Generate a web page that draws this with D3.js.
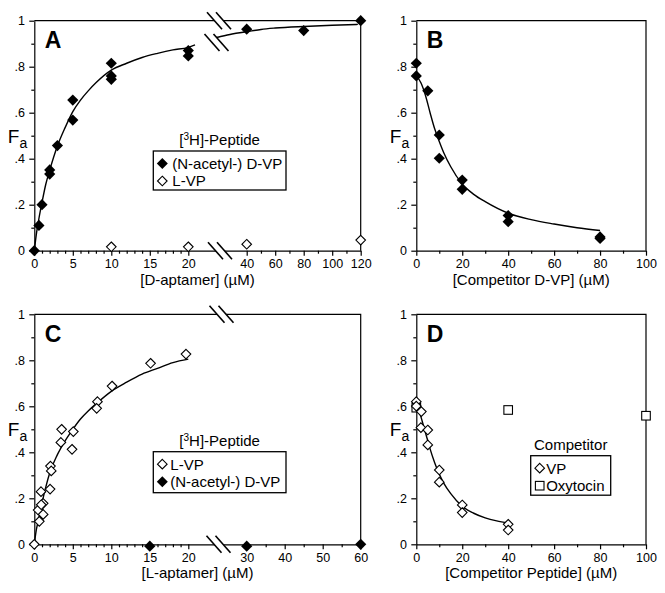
<!DOCTYPE html>
<html><head><meta charset="utf-8">
<script src="https://cdn.jsdelivr.net/npm/d3@7"></script>
<style>body{margin:0;background:#fff}svg{display:block}</style>
</head><body>
<svg id="c" width="665" height="593"></svg>
<script>
// ---------- data ----------
const yMajor = [0, 0.2, 0.4, 0.6, 0.8, 1];
const yMajorLabels = ["0", ".2", ".4", ".6", ".8", "1"];
const yMinor = [0.1, 0.3, 0.5, 0.7, 0.9];

// Panel A
const aBreaks = [0, 20, 40, 120];
const aXMajor = [0, 5, 10, 15, 20, 40, 60, 80, 100, 120];
const aXMinor = [1,2,3,4,6,7,8,9,11,12,13,14,16,17,18,19,50,70,90,110];
const aDvpX = [0, 0.6, 1, 2, 2, 3, 5, 5, 10, 10, 10, 20, 20, 40, 80, 120];
const aDvpY = [0, 0.11, 0.2, 0.351, 0.333, 0.457, 0.655, 0.568, 0.815, 0.76, 0.745, 0.87, 0.847, 0.963, 0.957, 1.0];
const aLvpX = [10, 20, 40, 120];
const aLvpY = [0.017, 0.017, 0.028, 0.046];
const aFitLX = [0, 0.3, 0.6, 1, 1.5, 2, 3, 4, 5, 6, 7, 8, 10, 12, 14, 16, 18, 20, 22.3];
const aFitLY = [0, 0.08, 0.14, 0.21, 0.29, 0.35, 0.455, 0.535, 0.605, 0.655, 0.695, 0.73, 0.785, 0.815, 0.84, 0.858, 0.873, 0.884, 0.895];
const aFitRX = [28.3, 30, 35, 40, 50, 60, 80, 100, 118];
const aFitRY = [0.923, 0.928, 0.942, 0.952, 0.962, 0.968, 0.975, 0.98, 0.984];

// Panel B
const bXMajor = [0, 20, 40, 60, 80, 100];
const bXMinor = [10, 30, 50, 70, 90];
const bDvpX = [0, 0, 5, 10, 10, 20, 20, 40, 40, 80, 80];
const bDvpY = [0.815, 0.76, 0.695, 0.503, 0.402, 0.307, 0.267, 0.153, 0.126, 0.06, 0.053];
const bFitX = [0, 2, 4, 6, 8, 10, 12, 15, 20, 25, 30, 40, 50, 60, 70, 80];
const bFitY = [0.76, 0.73, 0.675, 0.6, 0.53, 0.475, 0.425, 0.365, 0.29, 0.245, 0.213, 0.163, 0.135, 0.116, 0.1, 0.088];

// Panel C
const cBreaks = [0, 20, 30, 60];
const cXMajor = [0, 5, 10, 15, 20, 30, 40, 50, 60];
const cXMinor = [1,2,3,4,6,7,8,9,11,12,13,14,16,17,18,19,35,45,55];
const cLvpX = [0, 0.65, 0.5, 0.87, 1.15, 1.15, 0.9, 2.1, 2.2, 2.05, 3.55, 3.45, 5.07, 4.9, 8.2, 8.1, 10.1, 15.1, 19.7];
const cLvpY = [0, 0.1, 0.149, 0.229, 0.178, 0.13, 0.172, 0.34, 0.319, 0.24, 0.5, 0.443, 0.49, 0.413, 0.62, 0.591, 0.688, 0.787, 0.827];
const cDvpX = [15, 30, 60];
const cDvpY = [-0.008, -0.008, 0];
const cFitX = [0, 0.25, 0.5, 1, 1.5, 2, 3, 4, 5, 6, 7, 8, 10, 12, 14, 16, 18, 20];
const cFitY = [0, 0.06, 0.1, 0.18, 0.25, 0.31, 0.39, 0.45, 0.5, 0.545, 0.58, 0.61, 0.665, 0.705, 0.74, 0.765, 0.79, 0.805];

// Panel D
const dXMajor = [0, 20, 40, 60, 80, 100];
const dXMinor = [10, 30, 50, 70, 90];
const dVpX = [0, 0, 2.2, 2, 5, 5, 10, 10, 20, 20, 40, 40];
const dVpY = [0.62, 0.601, 0.577, 0.507, 0.497, 0.432, 0.323, 0.27, 0.171, 0.138, 0.087, 0.062];
const dOxyX = [0, 40, 100];
const dOxyY = [0.594, 0.584, 0.559];
const dFitX = [0, 1, 2, 3, 4, 5, 6, 8, 10, 12, 15, 20, 25, 30, 35, 40];
const dFitY = [0.6, 0.585, 0.555, 0.52, 0.485, 0.45, 0.415, 0.355, 0.305, 0.265, 0.22, 0.165, 0.135, 0.115, 0.102, 0.093];

// ---------- drawing ----------
const svg = d3.select("#c");
svg.append("rect").attr("width", 665).attr("height", 593).attr("fill", "#fff");
const FONT = "'Liberation Sans', Arial, Helvetica, sans-serif";
svg.attr("font-family", FONT);

const zip = (xs, ys) => xs.map((x, i) => [x, ys[i]]);

function diamondPath(r) { return `M0,${-r}L${r},0L0,${r}L${-r},0Z`; }

function axes(g, x, y, xMaj, xMin) {
  g.append("g").attr("transform", `translate(0,${y(0)})`)
    .call(d3.axisBottom(x).tickValues(xMaj).tickSize(5).tickSizeOuter(0).tickPadding(3.6).tickFormat(d => String(d)));
  g.append("g").attr("transform", `translate(0,${y(0)})`)
    .call(d3.axisBottom(x).tickValues(xMin).tickSize(3).tickSizeOuter(0).tickFormat(""))
    .select(".domain").remove();
  g.append("g").attr("transform", `translate(${x.range()[0]},0)`)
    .call(d3.axisLeft(y).tickValues(yMajor).tickSize(5).tickSizeOuter(0).tickPadding(4.3).tickFormat((d, i) => yMajorLabels[i]));
  g.append("g").attr("transform", `translate(${x.range()[0]},0)`)
    .call(d3.axisLeft(y).tickValues(yMinor).tickSize(3).tickSizeOuter(0).tickFormat(""))
    .select(".domain").remove();
  g.selectAll(".domain, .tick line").attr("stroke", "#000").attr("stroke-width", 1.2);
  g.selectAll(".tick text").attr("font-size", 12.5).attr("font-family", FONT).attr("fill", "#000");
  const xr = x.range();
  g.append("path").attr("d", `M${xr[0]},${y(1)}H${xr[xr.length - 1]}V${y(0)}`)
    .attr("fill", "none").attr("stroke", "#000").attr("stroke-width", 1.2);
}

function brk(g, cx, cy) {
  const dx = 7.5, dy = 8.5, sep = 4.5;
  g.append("path").attr("d", `M${cx - sep - dx},${cy - dy}L${cx + sep - dx},${cy - dy}L${cx + sep + dx},${cy + dy}L${cx - sep + dx},${cy + dy}Z`)
    .attr("fill", "#fff");
  [-sep, sep].forEach(s => {
    g.append("line").attr("x1", cx + s - dx).attr("y1", cy - dy).attr("x2", cx + s + dx).attr("y2", cy + dy)
      .attr("stroke", "#000").attr("stroke-width", 1.6);
  });
}

function fit(g, x, y, xs, ys) {
  g.append("path").datum(zip(xs, ys))
    .attr("d", d3.line().x(d => x(d[0])).y(d => y(d[1])).curve(d3.curveMonotoneX))
    .attr("fill", "none").attr("stroke", "#000").attr("stroke-width", 1.4);
}

function points(g, x, y, xs, ys, kind) {
  zip(xs, ys).forEach(d => {
    const t = `translate(${x(d[0])},${y(d[1])})`;
    if (kind === "filled") g.append("path").attr("d", diamondPath(5.6)).attr("transform", t).attr("fill", "#000");
    else if (kind === "open") g.append("path").attr("d", diamondPath(4.8)).attr("transform", t).attr("fill", "#fff").attr("stroke", "#000").attr("stroke-width", 1.1);
    else g.append("rect").attr("x", -4.3).attr("y", -4.3).attr("width", 8.6).attr("height", 8.6).attr("transform", t).attr("fill", "#fff").attr("stroke", "#000").attr("stroke-width", 1.1);
  });
}

function labels(g, x, y, letter, xTitle) {
  const xr = x.range();
  g.append("text").attr("x", xr[0] + 10.5).attr("y", y(1) + 27.5).attr("font-size", 23).attr("font-weight", "bold").text(letter);
  const fa = g.append("text").attr("x", xr[0] - 26.5).attr("y", y(0.47)).attr("font-size", 19);
  fa.append("tspan").text("F");
  fa.append("tspan").attr("font-size", 14).attr("dy", 5).text("a");
  g.append("text").attr("x", (xr[0] + xr[xr.length - 1]) / 2).attr("y", y(0) + 34)
    .attr("text-anchor", "middle").attr("font-size", 15).text(xTitle);
}

function legend(g, title, sup, items, bx, by, bw, bh, tx) {
  const t = g.append("text").attr("x", bx + bw / 2).attr("y", by - 6).attr("text-anchor", "middle").attr("font-size", 15);
  if (sup) {
    t.append("tspan").text("[");
    t.append("tspan").attr("font-size", 10).attr("dy", -5).text("3");
    t.append("tspan").attr("dy", 5).text("H]-Peptide");
  } else t.text(title);
  g.append("rect").attr("x", bx).attr("y", by).attr("width", bw).attr("height", bh)
    .attr("fill", "#fff").attr("stroke", "#000").attr("stroke-width", 1.3);
  items.forEach((it, i) => {
    const cy = by + 12.5 + i * 17.5;
    const mt = `translate(${bx + 9},${cy})`;
    if (it.kind === "filled") g.append("path").attr("d", diamondPath(5.5)).attr("transform", mt).attr("fill", "#000");
    else if (it.kind === "open") g.append("path").attr("d", diamondPath(4.8)).attr("transform", mt).attr("fill", "#fff").attr("stroke", "#000").attr("stroke-width", 1.1);
    else g.append("rect").attr("x", -4.3).attr("y", -4.3).attr("width", 8.6).attr("height", 8.6).attr("transform", mt).attr("fill", "#fff").attr("stroke", "#000").attr("stroke-width", 1.1);
    g.append("text").attr("x", bx + tx).attr("y", cy + 5.3).attr("font-size", 15).text(it.label);
  });
}

// ---- Panel A ----
{
  const g = svg.append("g");
  const x = d3.scaleLinear().domain(aBreaks).range([34.3, 188.3, 246.7, 360.7]);
  const y = d3.scaleLinear().domain([0, 1]).range([250.7, 20.7]);
  axes(g, x, y, aXMajor, aXMinor);
  fit(g, x, y, aFitLX, aFitLY);
  fit(g, x, y, aFitRX, aFitRY);
  const bx = (x(20) + x(40)) / 2;
  brk(g, bx + 1.5, y(1));
  brk(g, bx - 1, y(0.905));
  brk(g, bx + 2.5, y(0));
  points(g, x, y, aLvpX, aLvpY, "open");
  points(g, x, y, aDvpX, aDvpY, "filled");
  labels(g, x, y, "A", "[D-aptamer] (\u00B5M)");
  legend(g, "", true, [{kind: "filled", label: "(N-acetyl-) D-VP"}, {kind: "open", label: "L-VP"}], 153.3, 151, 132.7, 39, 19);
}
// ---- Panel B ----
{
  const g = svg.append("g");
  const x = d3.scaleLinear().domain([0, 100]).range([416.3, 646]);
  const y = d3.scaleLinear().domain([0, 1]).range([250.7, 20.7]);
  axes(g, x, y, bXMajor, bXMinor);
  fit(g, x, y, bFitX, bFitY);
  points(g, x, y, bDvpX, bDvpY, "filled");
  labels(g, x, y, "B", "[Competitor D-VP] (\u00B5M)");
}
// ---- Panel C ----
{
  const g = svg.append("g");
  const x = d3.scaleLinear().domain(cBreaks).range([34.3, 188.3, 246.7, 360.7]);
  const y = d3.scaleLinear().domain([0, 1]).range([544.3, 314.3]);
  axes(g, x, y, cXMajor, cXMinor);
  fit(g, x, y, cFitX, cFitY);
  const bx = (x(20) + x(30)) / 2;
  brk(g, bx + 4, y(1));
  brk(g, bx + 1, y(0));
  points(g, x, y, cLvpX, cLvpY, "open");
  points(g, x, y, cDvpX, cDvpY, "filled");
  labels(g, x, y, "C", "[L-aptamer] (\u00B5M)");
  legend(g, "", true, [{kind: "open", label: "L-VP"}, {kind: "filled", label: "(N-acetyl-) D-VP"}], 153.3, 451.7, 132.7, 41, 17);
}
// ---- Panel D ----
{
  const g = svg.append("g");
  const x = d3.scaleLinear().domain([0, 100]).range([416.3, 646]);
  const y = d3.scaleLinear().domain([0, 1]).range([544.3, 314.3]);
  axes(g, x, y, dXMajor, dXMinor);
  fit(g, x, y, dFitX, dFitY);
  points(g, x, y, dOxyX, dOxyY, "square");
  points(g, x, y, dVpX, dVpY, "open");
  labels(g, x, y, "D", "[Competitor Peptide] (\u00B5M)");
  legend(g, "Competitor", false, [{kind: "open", label: "VP"}, {kind: "square", label: "Oxytocin"}], 530.7, 455.7, 80, 39.5, 15.5);
}
</script>
</body></html>
